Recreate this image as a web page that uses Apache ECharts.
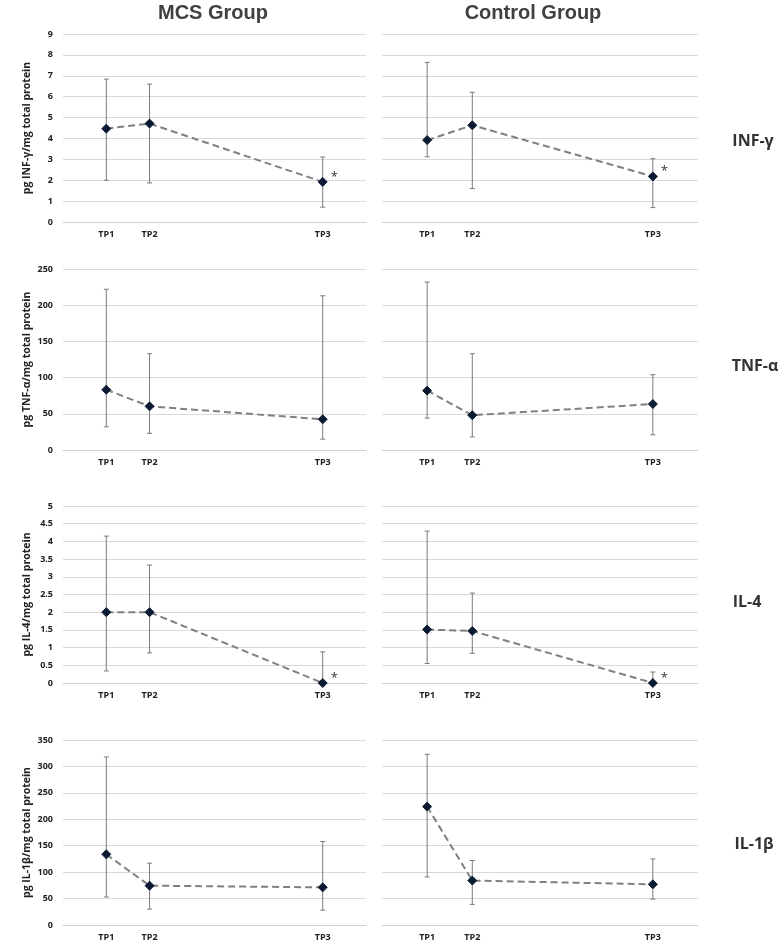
<!DOCTYPE html>
<html><head><meta charset="utf-8">
<script src="https://cdn.jsdelivr.net/npm/echarts@6/dist/echarts.min.js"></script>
<style>html,body{margin:0;padding:0;background:#fff}#c{width:780px;height:947px}</style>
</head><body><div id="c"></div>
<script>
const timeLabels = ['TP1','TP2','TP3'];
const timePos = [1, 2, 6];
const groupNames = ['MCS Group', 'Control Group'];
const markerNames = ['INF-γ', 'TNF-α', 'IL-4', 'IL-1β'];
const yAxisNames = ['pg INF-γ/mg total protein', 'pg TNF-α/mg total protein', 'pg IL-4/mg total protein', 'pg IL-1β/mg total protein'];
const yMax = [9, 250, 5, 350];
const yStep = [1, 50, 0.5, 50];

const infMcs = [4.47, 4.71, 1.92], infMcsLow = [2.0, 1.87, 0.71], infMcsHigh = [6.84, 6.6, 3.11];
const infCtl = [3.92, 4.63, 2.18], infCtlLow = [3.12, 1.6, 0.69], infCtlHigh = [7.64, 6.21, 3.03];
const tnfMcs = [83.3, 60.3, 42.4], tnfMcsLow = [32, 23, 15], tnfMcsHigh = [222, 133, 213];
const tnfCtl = [82, 48, 63.5], tnfCtlLow = [44, 18, 21], tnfCtlHigh = [232, 133, 104];
const il4Mcs = [2.0, 2.0, 0], il4McsLow = [0.34, 0.85, 0], il4McsHigh = [4.15, 3.33, 0.88];
const il4Ctl = [1.51, 1.47, 0], il4CtlLow = [0.55, 0.84, 0], il4CtlHigh = [4.29, 2.54, 0.31];
const il1Mcs = [133.7, 74.4, 71.2], il1McsLow = [53, 30, 28], il1McsHigh = [318, 117, 158];
const il1Ctl = [224, 84, 77], il1CtlLow = [91, 39, 49], il1CtlHigh = [323, 122, 125];
const infSig = ['', '', '*'];
const tnfSig = ['', '', ''];
const il4Sig = ['', '', '*'];
const il1Sig = ['', '', ''];

const panels = [
  [[infMcs, infMcsLow, infMcsHigh, infSig], [infCtl, infCtlLow, infCtlHigh, infSig]],
  [[tnfMcs, tnfMcsLow, tnfMcsHigh, tnfSig], [tnfCtl, tnfCtlLow, tnfCtlHigh, tnfSig]],
  [[il4Mcs, il4McsLow, il4McsHigh, il4Sig], [il4Ctl, il4CtlLow, il4CtlHigh, il4Sig]],
  [[il1Mcs, il1McsLow, il1McsHigh, il1Sig], [il1Ctl, il1CtlLow, il1CtlHigh, il1Sig]]
];

// layout
const rowTop = [34, 269, 506, 740];
const rowH = [188, 181, 177, 185];
const colLeft = [63, 382];
const colW = [303, 316];

const FONT = '"Open Sans", "Liberation Sans", sans-serif';
const grids = [], xAxes = [], yAxes = [], series = [];
let idx = 0;
for (let r = 0; r < 4; r++) {
  for (let c = 0; c < 2; c++) {
    const [mean, low, high, sig] = panels[r][c];
    grids.push({ left: colLeft[c], top: rowTop[r], width: colW[c], height: rowH[r] });
    xAxes.push({
      gridIndex: idx, type: 'value', min: 0, max: 7,
      axisLine: { show: true, lineStyle: { color: '#d0d0d0', width: 1 } },
      axisTick: { show: false }, splitLine: { show: false },
      axisLabel: {
        customValues: timePos,
        formatter: v => timeLabels[timePos.indexOf(v)] || '',
        color: '#222', fontSize: 9, fontWeight: 'bold', fontFamily: FONT, margin: 8
      }
    });
    yAxes.push({
      gridIndex: idx, type: 'value', min: 0, max: yMax[r], interval: yStep[r],
      axisLine: { show: false }, axisTick: { show: false },
      splitLine: { show: true, lineStyle: { color: '#d9d9d9', width: 1 } },
      axisLabel: { show: c === 0, color: '#222', fontSize: 9, fontWeight: 'bold', fontFamily: FONT, margin: 10 },
      name: c === 0 ? yAxisNames[r] : '',
      nameLocation: 'middle', nameRotate: 90, nameGap: 30,
      nameTextStyle: { color: '#222', fontSize: 10.5, fontWeight: 'bold', fontFamily: FONT }
    });
    // error bars
    series.push({
      type: 'custom', xAxisIndex: idx, yAxisIndex: idx, z: 2, silent: true,
      data: timePos.map((x, i) => [x, low[i], high[i]]),
      renderItem: (params, api) => {
        const x = api.value(0);
        const p1 = api.coord([x, api.value(1)]);
        const p2 = api.coord([x, api.value(2)]);
        const cap = 2.5;
        const st = { stroke: '#7a7a7a', lineWidth: 1 };
        return { type: 'group', children: [
          { type: 'line', shape: { x1: p1[0], y1: p1[1], x2: p2[0], y2: p2[1] }, style: st },
          { type: 'line', shape: { x1: p1[0] - cap, y1: p1[1], x2: p1[0] + cap, y2: p1[1] }, style: st },
          { type: 'line', shape: { x1: p2[0] - cap, y1: p2[1], x2: p2[0] + cap, y2: p2[1] }, style: st }
        ]};
      }
    });
    // mean line with markers
    series.push({
      type: 'line', xAxisIndex: idx, yAxisIndex: idx, z: 3,
      data: timePos.map((x, i) => ({
        value: [x, mean[i]],
        label: sig[i] ? { show: true, formatter: sig[i], position: 'right', offset: [-2, -5],
          color: '#333', fontSize: 13, fontFamily: FONT } : { show: false }
      })),
      symbol: 'diamond', symbolSize: 9, showSymbol: true,
      itemStyle: { color: '#0b1a33', borderColor: '#0b1a33' },
      lineStyle: { color: '#808080', width: 2, type: [7, 4] },
      animation: false
    });
    idx++;
  }
}

const texts = [];
const groupX = [213, 533];
groupNames.forEach((g, c) => texts.push({
  type: 'text', x: groupX[c], y: 13,
  style: { text: g, align: 'center', verticalAlign: 'middle', fill: '#404040',
    font: 'bold 20px "Liberation Sans", Arial, sans-serif' }
}));
const rowLabelY = [141, 366, 602, 844];
const rowLabelX = [753, 755, 747, 754];
markerNames.forEach((m, r) => texts.push({
  type: 'text', x: rowLabelX[r], y: rowLabelY[r],
  style: { text: m, align: 'center', verticalAlign: 'middle', fill: '#333',
    font: 'bold 16px "Open Sans", sans-serif' }
}));

const chart = echarts.init(document.getElementById('c'), null, { renderer: 'canvas' });
chart.setOption({
  animation: false,
  graphic: { elements: texts },
  grid: grids, xAxis: xAxes, yAxis: yAxes, series: series
});
</script></body></html>
